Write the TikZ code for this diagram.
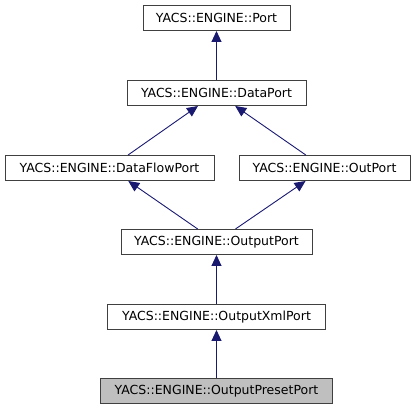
\documentclass[tikz,border=0pt]{standalone}
\usepackage{fontspec}
\setmainfont{DejaVu Sans}
\usetikzlibrary{arrows.meta}
\definecolor{edgeblue}{HTML}{191970}
\definecolor{boxgray}{HTML}{BFBFBF}
\tikzset{
  cls/.style={draw=black!75, line width=1pt, minimum height=25pt, inner sep=0pt, font=\fontsize{12.5}{15}\selectfont},
  inh/.style={draw=edgeblue, line width=0.9pt, -{Triangle[length=11pt, width=10pt, fill=edgeblue]}}
}
\begin{document}
\begin{tikzpicture}[x=1pt, y=-1pt]
\useasboundingbox (0, 0) rectangle (415, 411);

\node[cls, minimum width=147pt] (port) at (216.5, 18) {YACS::ENGINE::Port};

\node[cls, minimum width=179pt] (dataport) at (216.5, 93) {YACS::ENGINE::DataPort};

\node[cls, minimum width=209pt] (dataflow) at (109.5, 168) {YACS::ENGINE::DataFlowPort};
\node[cls, minimum width=171pt] (outport) at (324.5, 168) {YACS::ENGINE::OutPort};

\node[cls, minimum width=191pt] (output) at (216.5, 242) {YACS::ENGINE::OutputPort};

\node[cls, minimum width=218pt] (outxml) at (216.5, 317) {YACS::ENGINE::OutputXmlPort};

\node[cls, fill=boxgray, minimum width=232pt] (outpreset) at (216.5, 391) {YACS::ENGINE::OutputPresetPort};

\draw[inh] (dataport) -- (port);
\draw[inh] (dataflow) -- (dataport);
\draw[inh] (outport) -- (dataport);
\draw[inh] (output) -- (dataflow);
\draw[inh] (output) -- (outport);
\draw[inh] (outxml) -- (output);
\draw[inh] (outpreset) -- (outxml);
\end{tikzpicture}
\end{document}
